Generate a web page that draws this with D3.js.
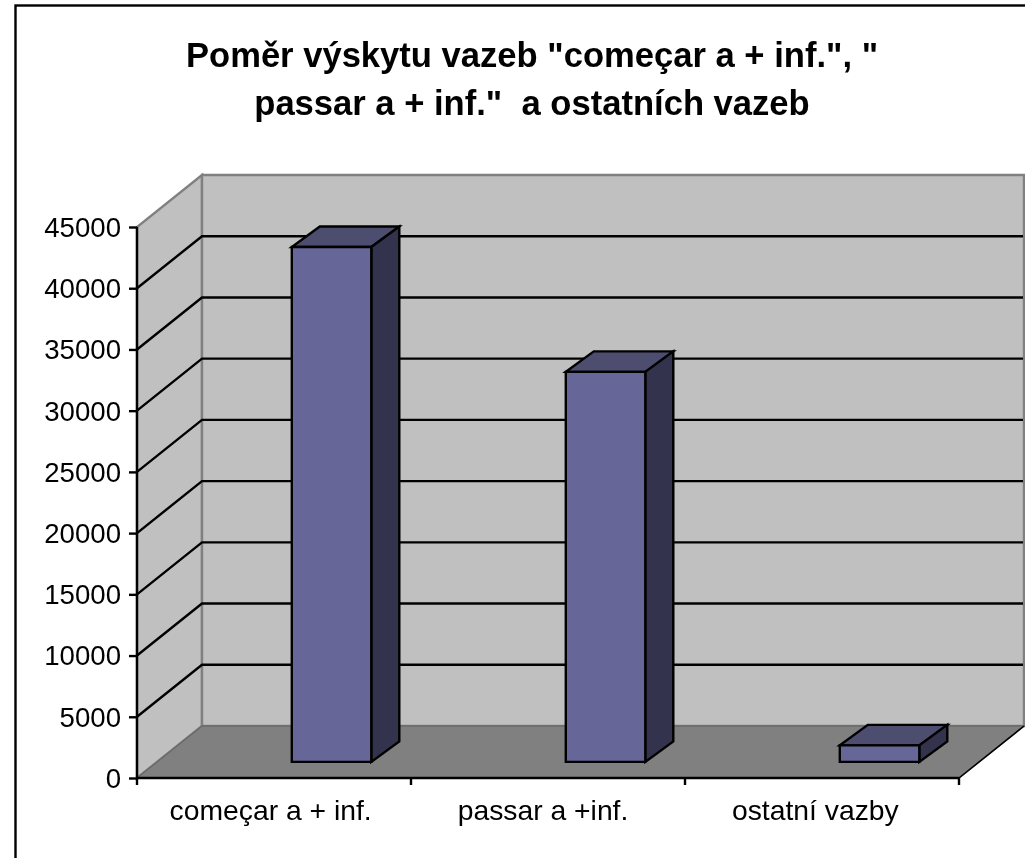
<!DOCTYPE html>
<html><head><meta charset="utf-8">
<script src="https://cdnjs.cloudflare.com/ajax/libs/d3/7.8.5/d3.min.js"></script>
<style>
html,body{margin:0;padding:0;background:#fff}
svg{display:block;filter:blur(0.45px)}
text{font-family:"Liberation Sans",Arial,sans-serif;fill:#000}
</style></head><body><div id="chart"></div>
<script>
const categories = ["começar a + inf.", "passar a +inf.", "ostatní vazby"];
const values = [42050, 31850, 1350];
const yTicks = [0, 5000, 10000, 15000, 20000, 25000, 30000, 35000, 40000, 45000];
const titleLines = ["Poměr výskytu vazeb \"começar a + inf.\", \"", "passar a + inf.\"  a ostatních vazeb"];

const W = 1025, H = 858;
const svg = d3.select("#chart").append("svg").attr("width", W).attr("height", H);
const y = d3.scaleLinear().domain([0, 45000]).range([778, 227]);
const x = d3.scaleBand().domain(categories).range([137, 959]);
const xLabel = d3.scaleBand().domain(categories).range([134.5, 951.5]);
const depth = {dx: 65, dy: -52};
const barLeft = 154.8, barW = 79.5, barD0 = 0.31;
const lw = 2.4;
const dline = d3.line();

svg.append("rect").attr("x", 15.5).attr("y", 5.5).attr("width", 1100).attr("height", 1000)
  .attr("fill", "#fff").attr("stroke", "#000").attr("stroke-width", lw);

titleLines.forEach((t, i) => svg.append("text").attr("x", 532).attr("y", 67 + i * 48)
  .attr("text-anchor", "middle").attr("font-size", 34.6).attr("font-weight", "bold").style("white-space", "pre").text(t));

const x0 = x.range()[0], x1 = x.range()[1], yb = y(0), yt = y(45000);
const poly = (pts, fill, stroke, sw) => svg.append("path").attr("d", dline(pts) + "Z")
  .attr("fill", fill).attr("stroke", stroke).attr("stroke-width", sw).attr("stroke-linejoin", "miter");

// walls and floor
poly([[x0, yb], [x0 + depth.dx, yb + depth.dy], [x0 + depth.dx, yt + depth.dy], [x0, yt]], "#c0c0c0", "#808080", 2.4);
poly([[x0 + depth.dx, yb + depth.dy], [x1 + depth.dx, yb + depth.dy], [x1 + depth.dx, yt + depth.dy], [x0 + depth.dx, yt + depth.dy]], "#c0c0c0", "#808080", 2.4);
poly([[x0, yb], [x1, yb], [x1 + depth.dx, yb + depth.dy], [x0 + depth.dx, yb + depth.dy]], "#808080", "#6a6a6a", 1.5);

// gridlines
yTicks.filter(v => v > 0 && v < 45000).forEach(v => {
  svg.append("path").attr("fill", "none").attr("stroke", "#000").attr("stroke-width", lw)
    .attr("d", dline([[x0, y(v)], [x0 + depth.dx, y(v) + depth.dy], [x1 + depth.dx - 1, y(v) + depth.dy]]));
});

// bars
categories.forEach((c, i) => {
  const L = x(c) + barLeft, R = L + barW;
  const by0 = depth.dy * barD0;
  const top = y(values[i]), base = y(0);
  const ddx = 28, ddy = -20.5;
  poly([[L, top + by0], [R, top + by0], [R + ddx, top + by0 + ddy], [L + ddx, top + by0 + ddy]], "#4d4d70", "#000", lw);
  poly([[R, top + by0], [R + ddx, top + by0 + ddy], [R + ddx, base + by0 + ddy], [R, base + by0]], "#33334d", "#000", lw);
  poly([[L, top + by0], [R, top + by0], [R, base + by0], [L, base + by0]], "#666699", "#000", lw);
});

// y axis
const axY = svg.append("g").attr("transform", `translate(${x0},0)`)
  .call(d3.axisLeft(y).tickValues(yTicks).tickSize(8).tickPadding(8).tickFormat(d3.format("d")));
axY.selectAll("line,path").attr("stroke", "#000").attr("stroke-width", lw);
axY.selectAll("text").attr("font-size", 27.6).attr("font-family", '"Liberation Sans"').attr("dy", "0.34em");
axY.select(".domain").attr("d", `M0,${yt}V${yb}`);

// x axis
const axX = svg.append("g").attr("transform", `translate(0,${yb})`)
  .call(d3.axisBottom(xLabel).tickSize(7).tickPadding(15));
axX.select(".domain").attr("stroke", "#000").attr("stroke-width", lw).attr("d", `M${x0},0H${x1}`);
axX.selectAll(".tick line").remove();
axX.selectAll("text").attr("font-size", 28.3).attr("font-family", '"Liberation Sans"');
const bounds = [x0].concat(categories.map(c => x(c) + x.bandwidth()));
axX.selectAll(".bound").data(bounds).join("line").attr("class", "bound")
  .attr("x1", d => d).attr("x2", d => d).attr("y1", 0).attr("y2", 7).attr("stroke", "#000").attr("stroke-width", lw);

svg.append("path").attr("fill", "none").attr("stroke", "#000").attr("stroke-width", 1.5)
  .attr("d", dline([[x1, yb], [x1 + depth.dx, yb + depth.dy]]));
</script></body></html>
